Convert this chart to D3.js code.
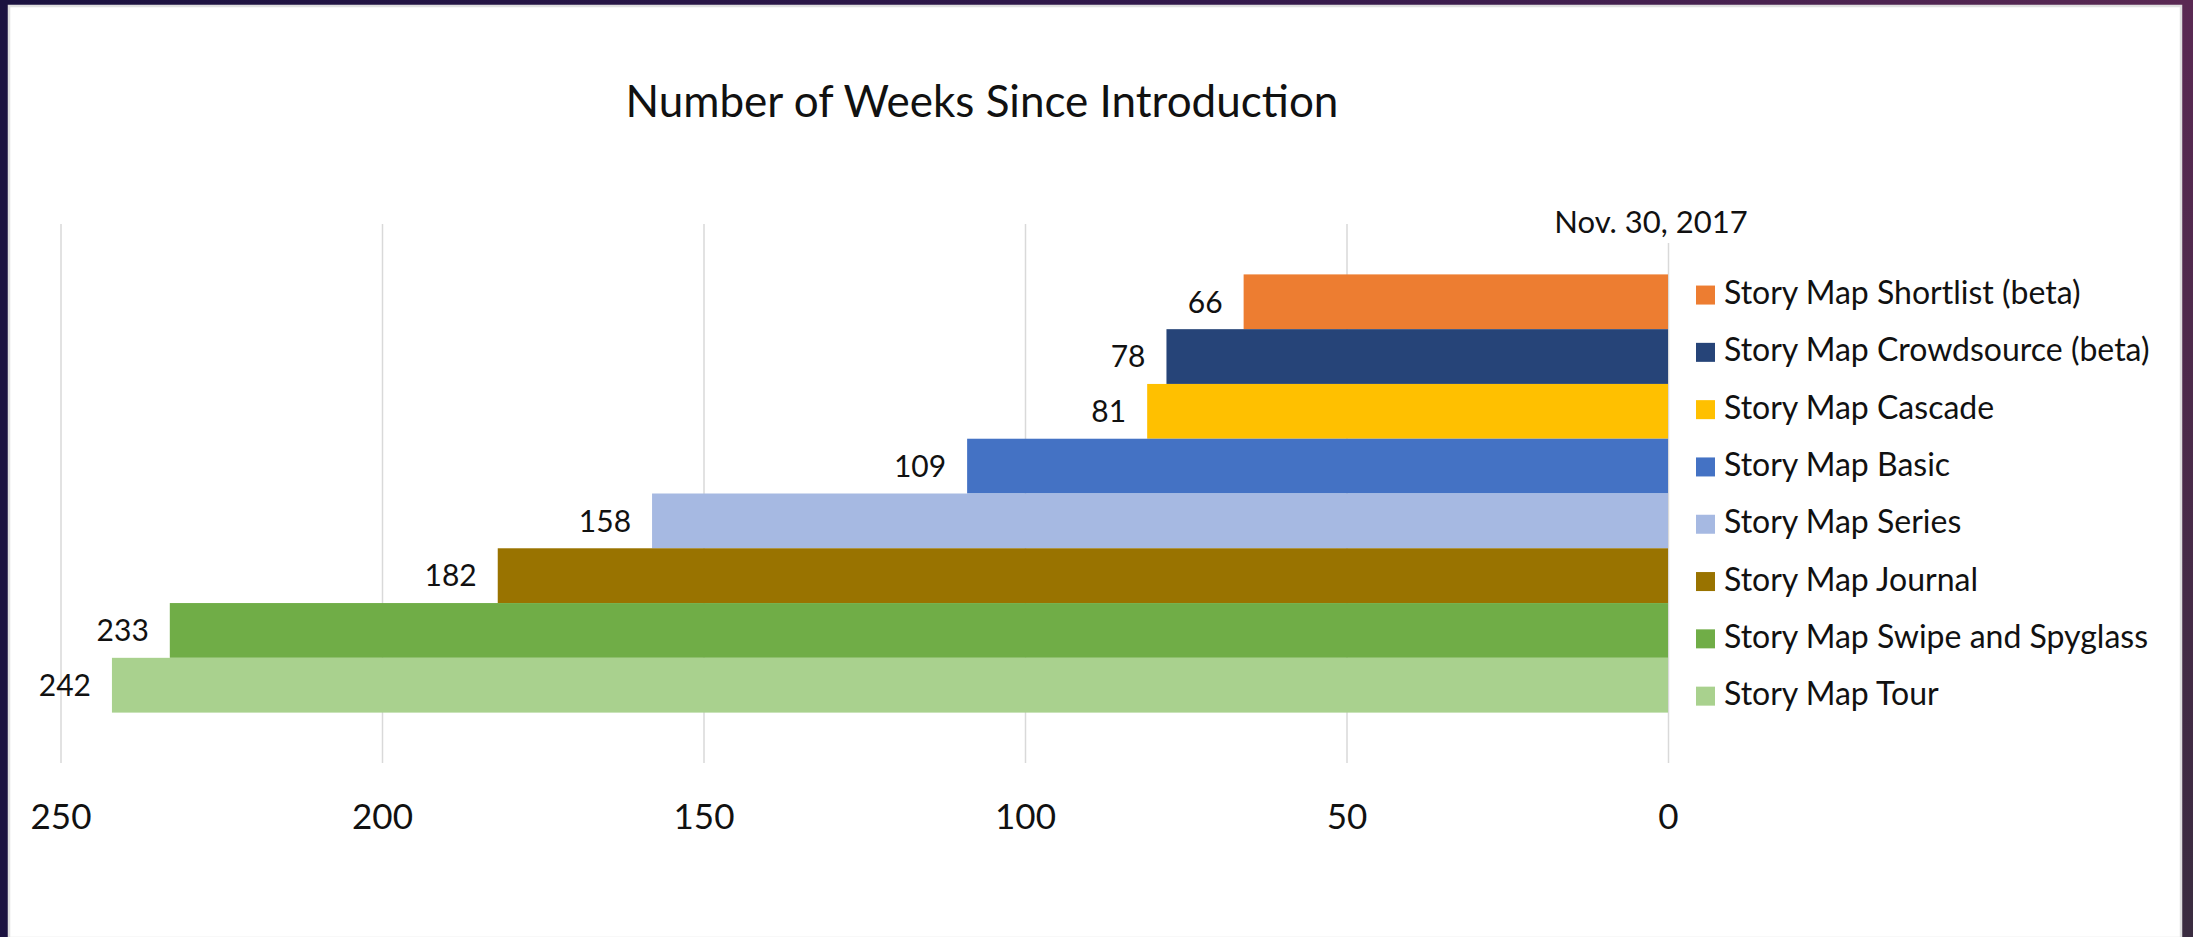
<!DOCTYPE html>
<html>
<head>
<meta charset="utf-8">
<script src="https://cdn.jsdelivr.net/npm/d3@7.9.0/dist/d3.min.js"></script>
<style>
  html, body { margin: 0; padding: 0; background: #1a1238; }
  svg { display: block; }
  text { font-family: Lato, "Noto Sans", sans-serif; fill: #111; }
</style>
</head>
<body>
<svg id="chart" width="2193" height="937"></svg>
<script>
// chart data
const categories = [
  'Story Map Shortlist (beta)',
  'Story Map Crowdsource (beta)',
  'Story Map Cascade',
  'Story Map Basic',
  'Story Map Series',
  'Story Map Journal',
  'Story Map Swipe and Spyglass',
  'Story Map Tour'
];
const weeks = [66, 78, 81, 109, 158, 182, 233, 242];
const barColors = ['#ED7D31', '#264478', '#FFC000', '#4472C4', '#A6B9E2', '#997300', '#70AD47', '#A9D18E'];
const tickValues = [250, 200, 150, 100, 50, 0];
const chartTitle = 'Number of Weeks Since Introduction';
const dateNote = 'Nov. 30, 2017';

const data = categories.map((c, i) => ({ label: c, value: weeks[i], color: barColors[i] }));

const svg = d3.select('#chart');

// slide frame behind the chart
const defs = svg.append('defs');
const frameGrad = defs.append('linearGradient').attr('id', 'frameGrad')
  .attr('x1', 0).attr('y1', 0).attr('x2', 1).attr('y2', 0);
frameGrad.append('stop').attr('offset', '0%').attr('stop-color', '#1b1240');
frameGrad.append('stop').attr('offset', '55%').attr('stop-color', '#33194c');
frameGrad.append('stop').attr('offset', '100%').attr('stop-color', '#5a2953');
const sideGrad = defs.append('linearGradient').attr('id', 'sideGrad')
  .attr('x1', 0).attr('y1', 0).attr('x2', 0).attr('y2', 1);
sideGrad.append('stop').attr('offset', '0%').attr('stop-color', '#5a2953');
sideGrad.append('stop').attr('offset', '100%').attr('stop-color', '#3a2c40');

svg.append('rect').attr('width', 2193).attr('height', 937).attr('fill', 'url(#frameGrad)');
svg.append('rect').attr('x', 2181).attr('y', 0).attr('width', 12).attr('height', 937).attr('fill', 'url(#sideGrad)');
svg.append('rect')
  .attr('x', 9).attr('y', 6).attr('width', 2172).attr('height', 932)
  .attr('fill', '#fff').attr('stroke', '#e0e0e0').attr('stroke-width', 2.5);

// scales
const x = d3.scaleLinear().domain([0, 250]).range([1668, 60.5]);
const y = d3.scaleBand().domain(categories).range([224, 763]).paddingInner(0).paddingOuter(0.92);

// gridlines
const grid = svg.append('g')
  .attr('transform', 'translate(0,763)')
  .call(d3.axisBottom(x).tickValues(tickValues).tickSize(-(763 - 224)).tickFormat(''));
grid.select('.domain').remove();
grid.selectAll('.tick line').attr('stroke', '#d9d9d9').attr('stroke-width', 1.5);
// the zero line starts a little lower, under the date note
grid.selectAll('.tick').filter(d => d === 0).select('line').attr('y2', -(763 - 243));

// bars
svg.append('g').selectAll('rect')
  .data(data)
  .join('rect')
  .attr('x', d => x(d.value))
  .attr('y', d => y(d.label))
  .attr('width', d => x(0) - x(d.value))
  .attr('height', y.bandwidth())
  .attr('fill', d => d.color);

// value labels
svg.append('g').selectAll('text')
  .data(data)
  .join('text')
  .attr('x', d => x(d.value) - 21)
  .attr('y', d => y(d.label) + y.bandwidth() / 2)
  .attr('dy', '0.36em')
  .attr('text-anchor', 'end')
  .style('font-size', '30px')
  .text(d => d.value);

// tick labels
const axis = svg.append('g')
  .attr('transform', 'translate(0,763)')
  .call(d3.axisBottom(x).tickValues(tickValues).tickSize(0).tickPadding(41));
axis.select('.domain').remove();
axis.selectAll('text')
  .style('font-size', '35px')
  .style('font-family', 'Lato, "Noto Sans", sans-serif')
  .attr('fill', '#111');

// title and date note
svg.append('text')
  .attr('x', 982).attr('y', 117)
  .attr('text-anchor', 'middle')
  .style('font-size', '44px')
  .text(chartTitle);

svg.append('text')
  .attr('x', 1651).attr('y', 233)
  .attr('text-anchor', 'middle')
  .style('font-size', '31px')
  .text(dateNote);

// legend
const ly = d3.scaleBand().domain(categories).range([266.4, 724.8]);
const legend = svg.append('g').selectAll('g')
  .data(data)
  .join('g')
  .attr('transform', d => `translate(0,${ly(d.label) + ly.bandwidth() / 2})`);
legend.append('rect')
  .attr('x', 1696).attr('y', -9.5)
  .attr('width', 19).attr('height', 19)
  .attr('fill', d => d.color);
legend.append('text')
  .attr('x', 1724).attr('y', 9)
  .style('font-size', '32px')
  .text(d => d.label);
</script>
</body>
</html>
